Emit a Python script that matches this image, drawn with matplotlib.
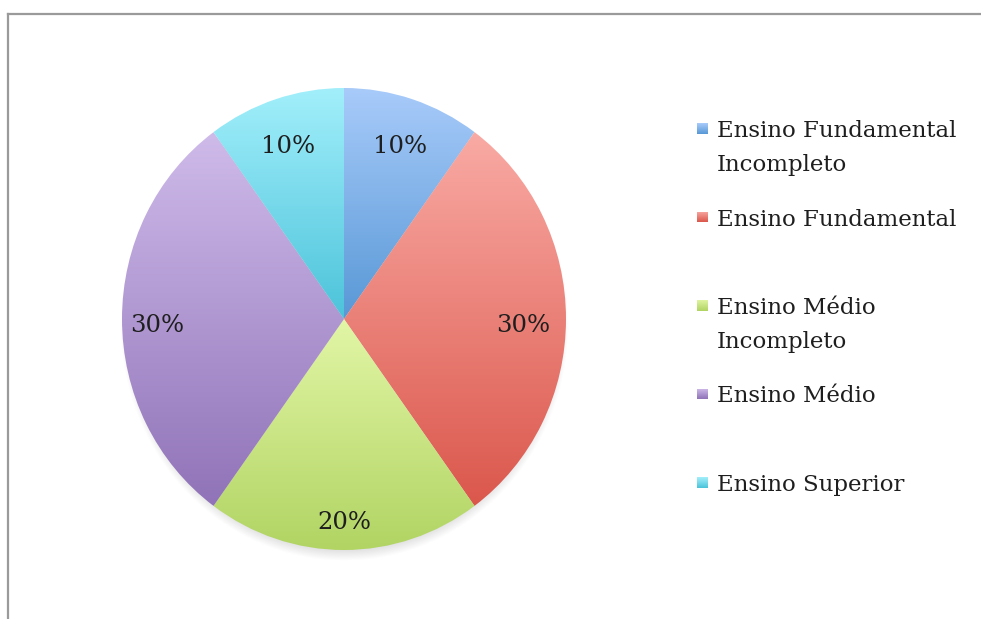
import numpy as np
import matplotlib
matplotlib.use("Agg")
import matplotlib.pyplot as plt
from matplotlib.colors import LinearSegmentedColormap
from matplotlib.lines import Line2D

categories = [
    "Ensino Fundamental\nIncompleto",
    "Ensino Fundamental",
    "Ensino Médio\nIncompleto",
    "Ensino Médio",
    "Ensino Superior",
]
shares = [10, 30, 20, 30, 10]

# top / bottom colours of each slice's vertical gradient
top_colors = ["#a8cbfa", "#f9aaa4", "#e2f6a6", "#cfbbea", "#a2effb"]
bottom_colors = ["#5898d6", "#db574c", "#b1d463", "#9073b8", "#4cc3da"]
label_dist = [0.815, 0.805, 0.855, 0.84, 0.815]

FONT = "DejaVu Serif"
W, H = 981, 619
fig = plt.figure(figsize=(W / 100, H / 100), dpi=100)
fig.patch.set_facecolor("white")

# outer frame: top and left edges only
fig.add_artist(Line2D([8 / W, 1], [1 - 14 / H, 1 - 14 / H], color="#9a9a9a", lw=1.6))
fig.add_artist(Line2D([8 / W, 8 / W], [0, 1 - 14 / H], color="#9a9a9a", lw=1.6))

# pie box in pixels
px0, px1, py0, py1 = 122, 566, 88, 550
ax = fig.add_axes([px0 / W, 1 - py1 / H, (px1 - px0) / W, (py1 - py0) / H])

# soft shadow just below the pie
sh = np.linspace(-1.2, 1.2, 400)
xx, yy = np.meshgrid(sh, sh)
rr = np.sqrt((xx * 1.01) ** 2 + (yy + 0.03) ** 2)
alpha = np.clip((1.02 - rr) / 0.05, 0, 1) * 0.25
shadow = np.zeros((400, 400, 4))
shadow[..., :3] = 0.5
shadow[..., 3] = alpha
ax.imshow(shadow, extent=(-1.2, 1.2, -1.2, 1.2), origin="lower", zorder=0,
          clip_on=False, interpolation="bilinear")

wedges, _ = ax.pie(shares, startangle=90, counterclock=False, radius=1,
                   wedgeprops=dict(linewidth=0))

for w, c_top, c_bot in zip(wedges, top_colors, bottom_colors):
    w.set_facecolor("none")
    ext = w.get_path().get_extents()
    cmap = LinearSegmentedColormap.from_list("g", [c_bot, c_top])
    grad = np.linspace(0, 1, 256).reshape(-1, 1)
    im = ax.imshow(grad, cmap=cmap, origin="lower", aspect="auto",
                   extent=(ext.x0, ext.x1, ext.y0, ext.y1), zorder=1)
    im.set_clip_path(w)

# percentage labels (sit a little below the radial point)
for w, v, d in zip(wedges, shares, label_dist):
    ang = np.deg2rad((w.theta1 + w.theta2) / 2)
    ax.text(d * np.cos(ang), d * np.sin(ang) - 0.028, f"{v}%", ha="center", va="center",
            fontsize=17.5, family=FONT, color="#1e1e1e", zorder=3)

ax.set_aspect("auto")
ax.set_xlim(-1, 1)
ax.set_ylim(-1, 1)
ax.axis("off")

# legend
leg_top = 130
step = 88.5
for i, (name, c_top, c_bot) in enumerate(zip(categories, top_colors, bottom_colors)):
    y = leg_top + i * step
    sq = fig.add_axes([697 / W, 1 - (y + 4) / H, 11 / W, 11 / H])
    cmap = LinearSegmentedColormap.from_list("g", [c_bot, c_top])
    sq.imshow(np.linspace(0, 1, 32).reshape(-1, 1), cmap=cmap, origin="lower", aspect="auto")
    sq.axis("off")
    fig.text(717 / W, 1 - (y - 10) / H, name, ha="left", va="top", fontsize=16.5,
             family=FONT, color="#1e1e1e", linespacing=1.72)

fig.savefig("out.png", dpi=100)
